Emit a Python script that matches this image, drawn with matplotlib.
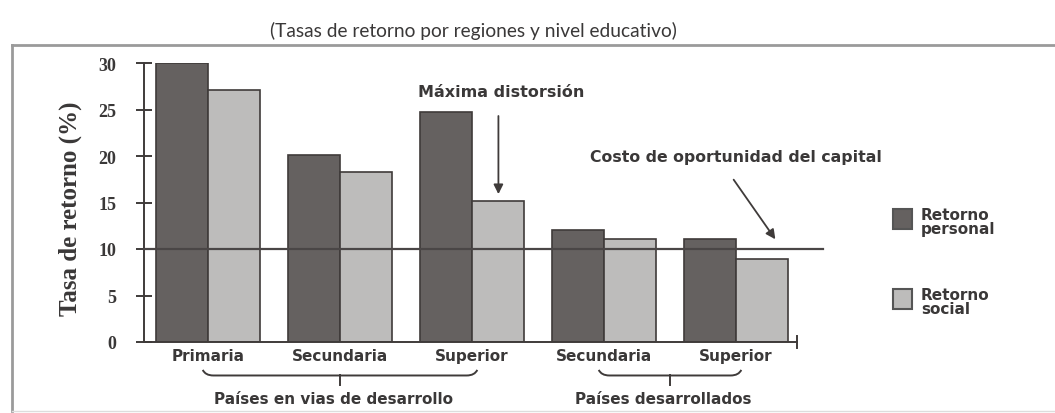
import numpy as np
import matplotlib.pyplot as plt
from matplotlib.patches import Rectangle, PathPatch
from matplotlib.path import Path
from matplotlib.lines import Line2D

# data
niveles = ["Primaria", "Secundaria", "Superior", "Secundaria", "Superior"]
retorno_personal = [30.0, 20.1, 24.7, 12.0, 11.1]
retorno_social = [27.1, 18.3, 15.2, 11.1, 8.9]
costo_capital = 10.0
grupos = ["Países en vias de desarrollo", "Países desarrollados"]
grupo_rango = [(0, 2), (3, 4)]

c_personal = "#656160"
c_social = "#bdbcbb"
c_edge = "#3f3b3a"
c_text = "#3a3838"

sans = ["Lato", "DejaVu Sans"]
bold = ["DejaVu Sans"]
serif = ["Liberation Serif", "DejaVu Serif"]

fig = plt.figure(figsize=(10.55, 4.14), dpi=100)
ax = fig.add_axes([144 / 1055, 71 / 414, 653 / 1055, 279 / 414])

x = np.arange(len(niveles))
w = 0.395
ax.bar(x - w / 2, retorno_personal, w, color=c_personal, edgecolor=c_edge, linewidth=1.2, zorder=2)
ax.bar(x + w / 2, retorno_social, w, color=c_social, edgecolor=c_edge, linewidth=1.2, zorder=2)

ax.set_xlim(-0.485, 4.462)
ax.set_ylim(0, 30)

# linea de costo de oportunidad
ax.plot([-0.485, 4.66], [costo_capital, costo_capital], color="#4a4646", lw=1.6,
        clip_on=False, zorder=3)

# ejes
for s in ["top", "right"]:
    ax.spines[s].set_visible(False)
ax.spines["left"].set_color(c_edge)
ax.spines["bottom"].set_color(c_edge)
ax.spines["left"].set_linewidth(1.4)
ax.spines["bottom"].set_linewidth(1.4)
ax.plot([4.462, 4.462], [-0.6, 0.6], color=c_edge, lw=1.4, clip_on=False)

ax.set_yticks([0, 5, 10, 15, 20, 25, 30])
ax.tick_params(axis="y", direction="inout", length=12, width=1.4, color=c_edge, pad=14)
for lb in ax.get_yticklabels():
    lb.set_family(serif)
    lb.set_fontweight("bold")
    lb.set_fontsize(13)
    lb.set_color(c_text)

ax.set_xticks(x)
ax.set_xticklabels(niveles)
ax.tick_params(axis="x", length=0, pad=4)
for lb in ax.get_xticklabels():
    lb.set_family(bold)
    lb.set_fontweight("bold")
    lb.set_fontsize(11)
    lb.set_color(c_text)

ax.set_ylabel("Tasa de retorno (%)", family=serif, fontweight="bold", fontsize=18,
              color=c_text)
ax.yaxis.set_label_coords(-0.095, 0.48)

# llaves de agrupacion
def llave(x1, x2, y, h=0.6, d=0.06):
    verts = [(x1 - 0.02, y + h), (x1, y), (x1 + d, y), (x2 - d, y),
             (x2, y), (x2 + 0.02, y + h)]
    codes = [Path.MOVETO, Path.CURVE3, Path.CURVE3, Path.LINETO, Path.CURVE3, Path.CURVE3]
    ax.add_patch(PathPatch(Path(verts, codes), fill=False, ec=c_edge, lw=1.4, clip_on=False))
    xm = (x1 + x2) / 2
    ax.plot([xm, xm], [y, y - 1.0], color=c_edge, lw=1.4, clip_on=False)

for g, (a, b) in zip(grupos, grupo_rango):
    llave(a - 0.02, b + 0.02, -3.6)
    ax.text((a + b) / 2 - 0.05, -6.1, g, ha="center", va="center", family=bold,
            fontweight="bold", fontsize=11, color=c_text, clip_on=False)

# anotaciones
ax.text(2.22, 26.9, "Máxima distorsión", ha="center", va="center", family=bold,
        fontweight="bold", fontsize=11.5, color=c_text)
ax.annotate("", xy=(2.2, 15.6), xytext=(2.2, 24.6),
            arrowprops=dict(arrowstyle="-|>", color=c_edge, lw=1.3, mutation_scale=14))
ax.text(4.0, 19.9, "Costo de oportunidad del capital", ha="center", va="center",
        family=bold, fontweight="bold", fontsize=11.3, color=c_text)
ax.annotate("", xy=(4.31, 10.8), xytext=(3.97, 17.7),
            arrowprops=dict(arrowstyle="-|>", color=c_edge, lw=1.3, mutation_scale=14),
            annotation_clip=False)

# leyenda
leyenda = [("Retorno\npersonal", c_personal, 230), ("Retorno\nsocial", c_social, 310)]
for txt, col, ybot in leyenda:
    fig.add_artist(Rectangle((893 / 1055, 1 - ybot / 414), 19 / 1055, 20 / 414,
                             transform=fig.transFigure, fc=col, ec="#555", lw=1.5))
    fig.text(921 / 1055, 1 - (ybot - 22) / 414, txt, ha="left", va="top", family=bold,
             fontweight="bold", fontsize=11, color=c_text, linespacing=0.95)

# titulo
fig.text(473 / 1055, 1 - 31 / 414, "(Tasas de retorno por regiones y nivel educativo)",
         ha="center", va="center", family=sans, fontsize=13.8, color=c_text)

# marco
marco = "#9a9a9a"
fig.add_artist(Line2D([12 / 1055, 12 / 1055], [1 - 46 / 414, 1 - 412 / 414],
                      transform=fig.transFigure, color=marco, lw=2))
fig.add_artist(Line2D([12 / 1055, 1.0], [1 - 46 / 414, 1 - 46 / 414],
                      transform=fig.transFigure, color=marco, lw=2))
fig.add_artist(Line2D([12 / 1055, 1.0], [1 - 412 / 414, 1 - 412 / 414],
                      transform=fig.transFigure, color="#dddddd", lw=1))

fig.savefig("out.png", dpi=100)
